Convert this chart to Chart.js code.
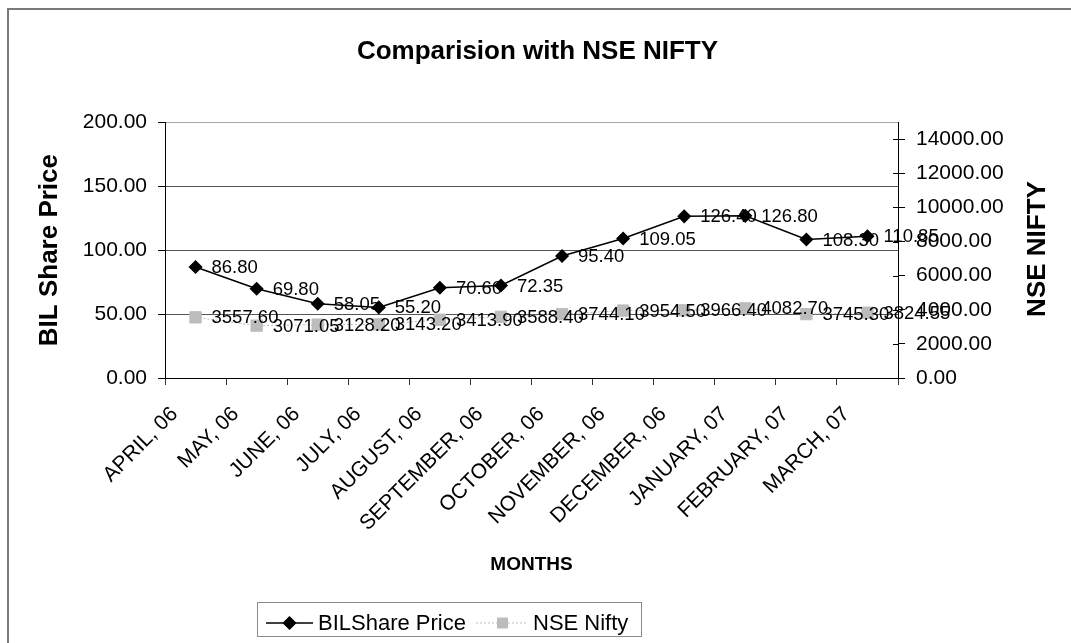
<!DOCTYPE html>
<html>
<head>
<meta charset="utf-8">
<script src="https://cdn.jsdelivr.net/npm/chart.js@4.4.0/dist/chart.umd.min.js"></script>
<style>
  html, body { margin: 0; padding: 0; background: #fff; overflow: hidden; }
  canvas { display: block; }
</style>
</head>
<body>
<canvas id="chart" width="1071" height="643"></canvas>
<script>
const months = ["APRIL, 06", "MAY, 06", "JUNE, 06", "JULY, 06", "AUGUST, 06", "SEPTEMBER, 06",
  "OCTOBER, 06", "NOVEMBER, 06", "DECEMBER, 06", "JANUARY, 07", "FEBRUARY, 07", "MARCH, 07"];
const bilPrice = [86.80, 69.80, 58.05, 55.20, 70.60, 72.35, 95.40, 109.05, 126.40, 126.80, 108.30, 110.85];
const nseNifty = [3557.60, 3071.05, 3128.20, 3143.20, 3413.90, 3588.40, 3744.10, 3954.50, 3966.40, 4082.70, 3745.30, 3824.55];
const leftTicks = [0, 50, 100, 150, 200];
const rightTicks = [0, 2000, 4000, 6000, 8000, 10000, 12000, 14000];

const FONT = 'Arial, "Liberation Sans", sans-serif';
Chart.defaults.font.family = FONT;
Chart.defaults.color = "#000";

// white page + the cut-off outer frame
const framePlugin = {
  id: "frame",
  beforeDraw(chart) {
    const ctx = chart.ctx;
    ctx.save();
    ctx.fillStyle = "#fff";
    ctx.fillRect(0, 0, chart.width, chart.height);
    ctx.strokeStyle = "#7a7a7a";
    ctx.lineWidth = 2;
    ctx.beginPath();
    ctx.moveTo(8, chart.height);
    ctx.lineTo(8, 9);
    ctx.lineTo(chart.width, 9);
    ctx.stroke();
    ctx.restore();
  }
};

// value labels to the right of each point
const valueLabels = {
  id: "valueLabels",
  afterDatasetsDraw(chart) {
    const ctx = chart.ctx;
    ctx.save();
    ctx.font = "18.5px " + FONT;
    ctx.fillStyle = "#000";
    ctx.textAlign = "left";
    ctx.textBaseline = "middle";
    chart.data.datasets.forEach((ds, i) => {
      chart.getDatasetMeta(i).data.forEach((pt, j) => {
        ctx.fillText(ds.data[j].toFixed(2), pt.x + 16, pt.y + 1);
      });
    });
    ctx.restore();
  }
};

// right axis title (reads bottom-to-top), inner right ticks and boxed legend
const extras = {
  id: "extras",
  afterDraw(chart) {
    const ctx = chart.ctx;
    const y1 = chart.scales.y1;
    ctx.save();
    ctx.strokeStyle = "#000";
    ctx.lineWidth = 1;
    rightTicks.forEach(v => {
      const py = Math.round(y1.getPixelForValue(v)) + 0.5;
      ctx.beginPath(); ctx.moveTo(y1.left - 5, py); ctx.lineTo(y1.left, py); ctx.stroke();
    });
    ctx.restore();

    ctx.save();
    ctx.translate(1038, 249);
    ctx.rotate(-Math.PI / 2);
    ctx.font = "bold 26px " + FONT;
    ctx.fillStyle = "#000";
    ctx.textAlign = "center";
    ctx.textBaseline = "middle";
    ctx.fillText("NSE NIFTY", 0, 0);
    ctx.restore();

    ctx.save();
    ctx.strokeStyle = "#8a8a8a";
    ctx.lineWidth = 1;
    ctx.strokeRect(257.5, 602.5, 384, 34);
    const y = 623;
    const ds = chart.data.datasets;
    // BIL
    ctx.strokeStyle = ds[0].borderColor;
    ctx.lineWidth = ds[0].borderWidth;
    ctx.beginPath(); ctx.moveTo(266, y); ctx.lineTo(313, y); ctx.stroke();
    Chart.helpers.drawPoint(ctx, { pointStyle: "rectRot", radius: 6, borderWidth: 1 }, 289.5, y);
    ctx.fillStyle = "#000";
    ctx.fill();
    // NSE
    ctx.strokeStyle = ds[1].borderColor;
    ctx.lineWidth = 1;
    ctx.setLineDash([2, 2]);
    ctx.beginPath(); ctx.moveTo(476, y); ctx.lineTo(528, y); ctx.stroke();
    ctx.setLineDash([]);
    ctx.fillStyle = ds[1].pointBackgroundColor;
    ctx.fillRect(497, y - 5.5, 11, 11);
    ctx.fillStyle = "#000";
    ctx.font = "22px " + FONT;
    ctx.textAlign = "left";
    ctx.textBaseline = "middle";
    ctx.fillText("BILShare Price", 318, y + 1);
    ctx.fillText("NSE Nifty", 533, y + 1);
    ctx.restore();
  }
};

new Chart(document.getElementById("chart"), {
  type: "line",
  data: {
    labels: months,
    datasets: [
      {
        label: "BILShare Price",
        data: bilPrice,
        yAxisID: "y",
        borderColor: "#000",
        borderWidth: 1.5,
        pointStyle: "rectRot",
        pointRadius: 6,
        pointBackgroundColor: "#000",
        pointBorderColor: "#000",
        tension: 0,
        order: 0
      },
      {
        label: "NSE Nifty",
        data: nseNifty,
        yAxisID: "y1",
        borderColor: "#bdbdbd",
        borderWidth: 1,
        borderDash: [2, 2],
        pointStyle: "rect",
        pointRadius: 8,
        pointBackgroundColor: "#bcbcbc",
        pointBorderColor: "#bcbcbc",
        tension: 0,
        order: 1
      }
    ]
  },
  options: {
    responsive: false,
    animation: false,
    devicePixelRatio: 1,
    layout: { padding: { left: 34, right: 30, top: 0, bottom: 67 } },
    plugins: {
      legend: { display: false },
      tooltip: { enabled: false },
      title: {
        display: true,
        text: "Comparision with NSE NIFTY",
        font: { size: 26, weight: "bold" },
        color: "#000",
        padding: { top: 36, bottom: 55 }
      }
    },
    scales: {
      x: {
        type: "category",
        offset: true,
        grid: { display: true, offset: true, drawOnChartArea: false, tickLength: 7, tickColor: "#333" },
        border: { color: "#000", width: 1 },
        ticks: { autoSkip: false, minRotation: 45, maxRotation: 45, padding: 17, labelOffset: -21, font: { size: 21 }, color: "#000" },
        title: { display: true, text: "MONTHS", font: { size: 19, weight: "bold" }, color: "#000", padding: 0 },
        afterFit(s) { s.height = 198; }
      },
      y: {
        position: "left",
        min: 0,
        max: 200,
        afterBuildTicks(s) { s.ticks = leftTicks.map(v => ({ value: v })); },
        grid: {
          color: c => c.tick && c.tick.value === 200 ? "#a8a8a8" : "#555",
          tickLength: 7,
          tickColor: "#000"
        },
        border: { color: "#000", width: 1 },
        ticks: { padding: 11, font: { size: 21 }, color: "#000", callback: v => Number(v).toFixed(2) },
        title: { display: true, text: "BIL Share Price", font: { size: 26, weight: "bold" }, color: "#000", padding: 0 },
        afterFit(s) { s.width = 131; }
      },
      y1: {
        position: "right",
        min: 0,
        max: 15000,
        afterBuildTicks(s) { s.ticks = rightTicks.map(v => ({ value: v })); },
        grid: { drawOnChartArea: false, tickLength: 7, tickColor: "#000" },
        border: { color: "#000", width: 1 },
        ticks: { padding: 11, font: { size: 21 }, color: "#000", callback: v => Number(v).toFixed(2) },
        afterFit(s) { s.width = 143; }
      }
    }
  },
  plugins: [framePlugin, valueLabels, extras]
});
</script>
</body>
</html>
